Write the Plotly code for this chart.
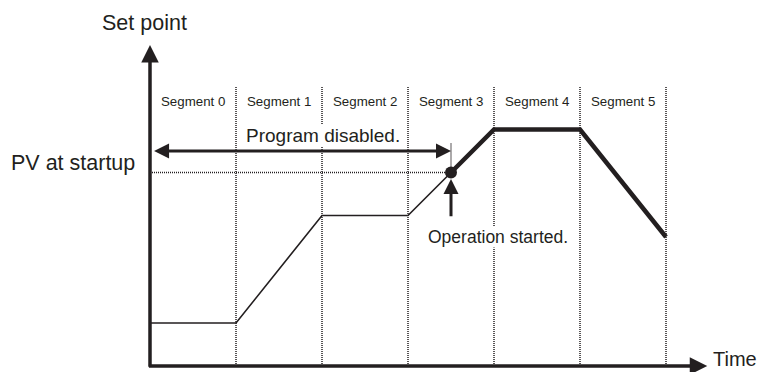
import plotly.graph_objects as go

# segment boundaries (time units) and their labels
seg_bounds = [0, 1, 2, 3, 4, 5, 6]
seg_labels = ['Segment 0', 'Segment 1', 'Segment 2', 'Segment 3', 'Segment 4', 'Segment 5']
seg_top = 13

# set point profile: thin before operation start, thick after
before_t = [0, 1, 2, 3, 3.5]
before_sp = [2, 2, 7, 7, 9]
after_t = [3.5, 4, 5, 6]
after_sp = [9, 11, 11, 6]

# operation start point / PV at startup
start_t = 3.5
pv_start = 9
disabled_level = 10

ink = '#231f20'
font = 'Liberation Sans, Arial, sans-serif'

fig = go.Figure()

# segment dividers (dotted)
div_x, div_y = [], []
for b in seg_bounds[1:]:
    div_x += [b, b, None]
    div_y += [0, seg_top, None]
# PV at startup line + small tick at start point
div_x += [0, start_t, None, start_t, start_t]
div_y += [pv_start, pv_start, None, pv_start, disabled_level + 0.4]
fig.add_trace(go.Scatter(x=div_x, y=div_y, mode='lines',
                         line=dict(color=ink, width=1.5, dash='1px,1px'),
                         hoverinfo='skip'))

# profile
fig.add_trace(go.Scatter(x=before_t, y=before_sp, mode='lines',
                         line=dict(color=ink, width=1.6), hoverinfo='skip'))
fig.add_trace(go.Scatter(x=after_t, y=after_sp, mode='lines',
                         line=dict(color=ink, width=4.5), hoverinfo='skip'))
fig.add_trace(go.Scatter(x=[start_t], y=[pv_start], mode='markers',
                         marker=dict(color=ink, size=12), hoverinfo='skip'))

# segment labels
for i, lab in enumerate(seg_labels):
    fig.add_annotation(x=(seg_bounds[i] + seg_bounds[i + 1]) / 2, y=12.3, text=lab,
                       showarrow=False, font=dict(size=13.3, color=ink, family=font))

arrow = dict(showarrow=True, axref='x', ayref='y', arrowcolor=ink, text='',
             arrowhead=2, arrowsize=1)
# axes
fig.add_annotation(x=0, y=14.93, ax=0, ay=-0.1, arrowwidth=3.5, **arrow)
fig.add_annotation(x=6.48, y=0, ax=-0.03, ay=0, arrowwidth=3.5, **arrow)
# program disabled span
fig.add_annotation(x=start_t, y=disabled_level, ax=0.03, ay=disabled_level,
                   arrowwidth=3, arrowside='end+start', **arrow)
# operation started
fig.add_annotation(x=start_t, y=8.7, ax=start_t, ay=6.9, arrowwidth=3, **arrow)

# (text, x, y, anchor, vertical anchor, size, background)
texts = [
    ('Set point', -0.06, 15.95, 'center', 'middle', 21.5, None),
    ('PV at startup', -0.16, 9.44, 'right', 'middle', 21.5, None),
    ('Program disabled.', 2.01, 10.74, 'center', 'middle', 19, 'white'),
    ('Operation started.', 4.05, 6.0, 'center', 'middle', 17.5, 'white'),
    ('Time', 6.53, -0.22, 'left', 'bottom', 20, None),
]
for txt, tx, ty, anc, vanc, sz, bg in texts:
    fig.add_annotation(x=tx, y=ty, text=txt, showarrow=False, xanchor=anc,
                       yanchor=vanc, bgcolor=bg, borderpad=0,
                       font=dict(size=sz, color=ink, family=font))

fig.update_layout(
    width=762, height=372,
    margin=dict(l=0, r=0, t=0, b=0),
    paper_bgcolor='white', plot_bgcolor='white',
    showlegend=False,
    xaxis=dict(visible=False, range=[-150 / 86, 612 / 86], fixedrange=True),
    yaxis=dict(visible=False, range=[-6 / 21.5, 366 / 21.5], fixedrange=True),
)

# page body has a default margin; drop it so the figure fills the window
fig.write_html("out.html", post_script="document.body.style.margin='0';",
               config={'displayModeBar': False})
